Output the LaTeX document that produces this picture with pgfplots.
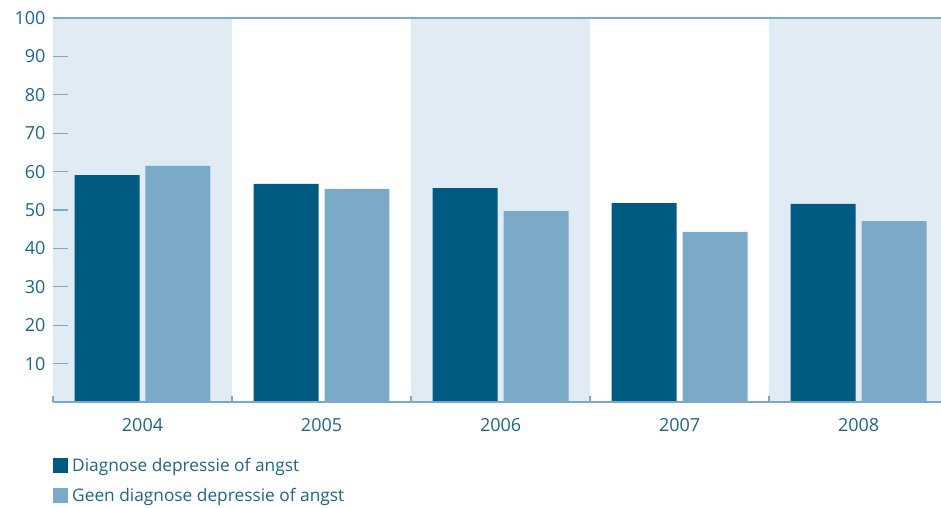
\documentclass[border=0pt]{standalone}
\usepackage{fontspec}
\setmainfont{Open Sans}
\usepackage{pgfplots}
\pgfplotsset{compat=1.18}
\definecolor{dark}{RGB}{0,90,130}
\definecolor{light}{RGB}{122,170,200}
\definecolor{band}{RGB}{224,235,244}
\definecolor{txt}{RGB}{30,100,140}
\definecolor{axcol}{RGB}{122,170,200}
\begin{document}
\begin{tikzpicture}[x=1pt,y=1pt]
\begin{axis}[
  at={(53pt,105pt)}, anchor=south west,
  scale only axis, width=888pt, height=384pt,
  set layers, axis on top, clip=false,
  xmin=-0.5, xmax=4.46, ymin=0, ymax=100,
  axis line style={draw=none},
  /pgf/number format/assume math mode=true,
  ytick={10,20,...,100},
  ytick pos=left, xtick pos=bottom,
  tick align=inside,
  ytick style={axcol, line width=1.3pt},
  major tick length=15pt,
  yticklabel style={font=\fontsize{18}{21}\selectfont, text=txt, xshift=-4pt},
  xtick={0,1,2,3,4},
  xticklabels={2004,2005,2006,2007,2008},
  xtick style={draw=none},
  xticklabel style={font=\fontsize{18}{21}\selectfont, text=txt, yshift=2pt},
  extra x ticks={-0.5,0.5,1.5,2.5,3.5},
  extra x tick labels={},
  extra x tick style={tick align=inside, xtick style={draw=axcol, line width=1.3pt}, major tick length=6pt},
  ybar, bar width=0.363,
  legend style={draw=none, fill=none, at={(0,0)}, anchor=north west,
    yshift=-54pt, xshift=0pt, inner sep=0pt, row sep=11pt,
    font=\fontsize{17.3}{20}\selectfont, text=txt},
  legend cell align=left,
  legend image code/.code={\fill[#1] (0pt,-7.5pt) rectangle (15pt,7.5pt);},
  /tikz/every odd column/.append style={column sep=2pt},
]
\begin{pgfonlayer}{axis background}
\fill[band] (axis cs:-0.5,0) rectangle (axis cs:0.5,100);
\fill[band] (axis cs:1.5,0) rectangle (axis cs:2.5,100);
\fill[band] (axis cs:3.5,0) rectangle (axis cs:4.46,100);
\end{pgfonlayer}
\addplot[fill=dark, draw=none, bar shift=-0.198] coordinates {(0,59.1) (1,56.8) (2,55.7) (3,51.8) (4,51.6)};
\addlegendentry{Diagnose depressie of angst}
\addplot[fill=light, draw=none, bar shift=0.198] coordinates {(0,61.5) (1,55.5) (2,49.7) (3,44.3) (4,47.1)};
\addlegendentry{Geen diagnose depressie of angst}
\draw[axcol, line width=1.3pt] (axis cs:-0.5,100) -- (axis cs:4.46,100);
\draw[axcol, line width=1.3pt] (axis cs:-0.5,0) -- (axis cs:4.46,0);
\end{axis}
\pgfresetboundingbox
\path (0,0) rectangle (941,507);
\end{tikzpicture}
\end{document}
